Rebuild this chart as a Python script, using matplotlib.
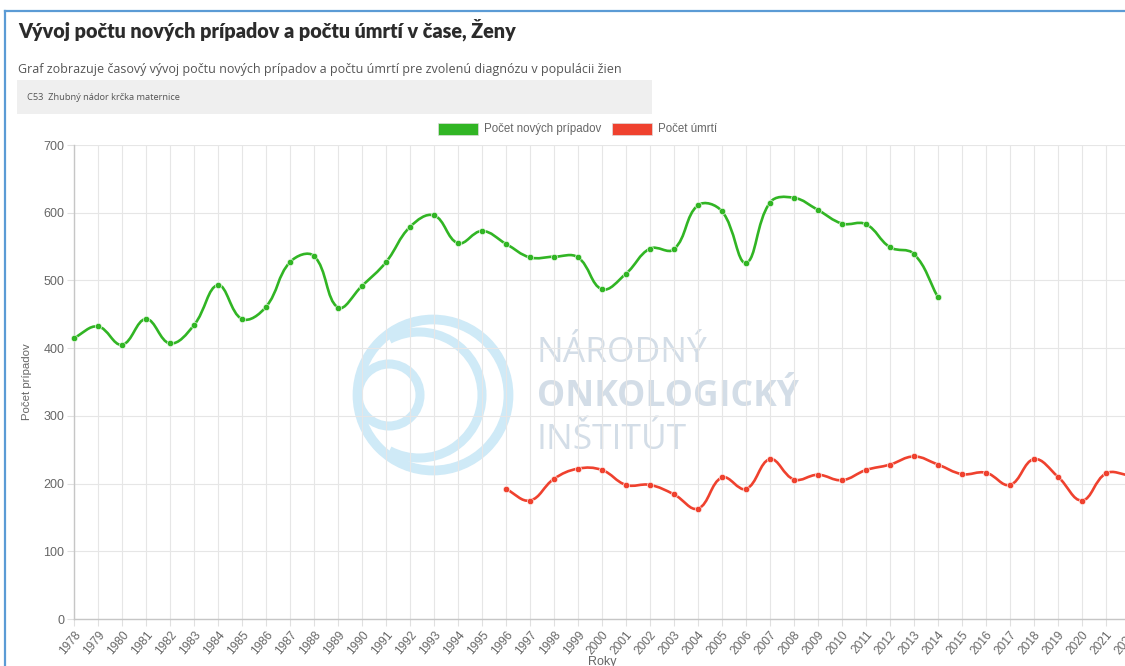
import numpy as np
import matplotlib.pyplot as plt
from matplotlib.path import Path
from matplotlib.patches import PathPatch, Rectangle, Circle, Arc

# data
years = list(range(1978, 2023))
cases_years = list(range(1978, 2015))
cases = [415, 432, 405, 443, 407, 434, 493, 443, 461, 527,
         536, 460, 492, 527, 579, 596, 555, 573, 554, 534,
         535, 534, 487, 510, 547, 546, 611, 602, 526, 615,
         622, 604, 584, 583, 549, 539, 475]
deaths_years = list(range(1996, 2023))
deaths = [192, 175, 207, 222, 220, 198, 198, 184, 163, 209,
          192, 236, 206, 213, 205, 220, 228, 240, 228, 214,
          216, 198, 236, 210, 175, 215, 212]

W, H = 1125, 666
fig = plt.figure(figsize=(W / 100, H / 100), dpi=100)
fig.patch.set_facecolor('white')

def fx(px): return px / W
def fy(py): return 1 - py / H

# frame of the card
fig.add_artist(plt.Line2D([fx(5), fx(5)], [fy(11), 0], color='#5b9bd5', lw=1.6))
fig.add_artist(plt.Line2D([fx(5), 1], [fy(11), fy(11)], color='#5b9bd5', lw=1.6))

fig.text(fx(18), fy(30), 'Vývoj počtu nových prípadov a počtu úmrtí v čase, Ženy',
         fontsize=14.2, fontweight='heavy', color='#2b2b2b', family='Lato', va='center')
fig.text(fx(18), fy(70), 'Graf zobrazuje časový vývoj počtu nových prípadov a počtu úmrtí pre zvolenú diagnózu v populácii žien',
         fontsize=9.0, color='#555555', family='Open Sans', va='center')
fig.add_artist(Rectangle((fx(17), fy(114)), fx(652) - fx(17), fy(80) - fy(114),
                         facecolor='#efefef', edgecolor='none'))
fig.text(fx(27), fy(97), 'C53  Zhubný nádor krčka maternice',
         fontsize=6.7, color='#555555', family='Open Sans', va='center')

# legend
green, red = '#31b524', '#ef412e'
for x0, c, lab in [(438, green, 'Počet nových prípadov'), (612, red, 'Počet úmrtí')]:
    fig.add_artist(Rectangle((fx(x0), fy(135)), fx(40), 12 / H,
                             facecolor=c, edgecolor='#dddddd', lw=0.5))
    fig.text(fx(x0 + 46), fy(129), lab, fontsize=8.3, color='#666666',
             family='Liberation Sans', va='center')

# watermark logo behind the chart
logo = '#cfeaf7'
wm = fig.add_axes([0, 0, 1, 1], zorder=0)
wm.set_xlim(0, W); wm.set_ylim(H, 0); wm.axis('off')
wm.add_patch(Circle((433, 395), 75.5, fill=False, ec=logo, lw=7))
wm.add_patch(Arc((419, 395), 126, 126, theta1=-118, theta2=118, ec=logo, lw=6.5))
wm.add_patch(Circle((389, 395), 31, fill=False, ec=logo, lw=6.5))
wm.set_aspect('equal')
wtc = '#d3dde7'
wm.text(537, 353, 'NÁRODNÝ', fontsize=25.5, color=wtc, family='Open Sans', va='center')
wm.text(537, 397, 'ONKOLOGICKÝ', fontsize=25.6, color=wtc, family='Open Sans',
        fontweight='bold', va='center')
wm.text(537, 440, 'INŠTITÚT', fontsize=25.5, color=wtc, family='Open Sans', va='center')

ax = fig.add_axes([fx(74), fy(619), (1130 - 74) / W, (619 - 145) / H], zorder=1)
ax.patch.set_alpha(0)
ax.set_xlim(1978, 2022)
ax.set_ylim(0, 700)

pxx = (1130 - 74) / 44.0
pxy = (619 - 145) / 700.0

def smooth(xs, ys, t=0.4):
    # chart.js style bezier spline through the points
    P = np.column_stack([np.array(xs, float) * pxx, np.array(ys, float) * pxy])
    n = len(P)
    verts, codes = [tuple(P[0])], [Path.MOVETO]
    cps = []
    for i in range(n):
        prv = P[i - 1] if i > 0 else P[i]
        nxt = P[i + 1] if i < n - 1 else P[i]
        d01 = np.hypot(*(P[i] - prv)); d12 = np.hypot(*(nxt - P[i]))
        s = d01 + d12
        s01 = d01 / s if s else 0; s12 = d12 / s if s else 0
        cps.append((P[i] - t * s01 * (nxt - prv), P[i] + t * s12 * (nxt - prv)))
    for i in range(n - 1):
        verts += [tuple(cps[i][1]), tuple(cps[i + 1][0]), tuple(P[i + 1])]
        codes += [Path.CURVE4] * 3
    v = np.array(verts)
    v[:, 0] /= pxx; v[:, 1] /= pxy
    return Path(v, codes)

for xs, ys, c in [(cases_years, cases, green), (deaths_years, deaths, red)]:
    ax.add_patch(PathPatch(smooth(xs, ys), fill=False, ec=c, lw=1.9, zorder=3))
    ax.plot(xs, ys, 'o', color=c, ms=4.6, mec='white', mew=0.4, zorder=4, clip_on=False)

ax.set_xticks(years)
ax.set_xticklabels([str(y) for y in years], rotation=50, ha='right',
                   rotation_mode='anchor', fontsize=8.6, color='#666666', family='Liberation Sans')
ax.set_yticks(range(0, 701, 100))
ax.set_yticklabels([str(v) for v in range(0, 701, 100)], fontsize=9,
                   color='#666666', family='Liberation Sans')
ax.grid(True, color='#e6e6e6', lw=0.8)
ax.set_axisbelow(True)
ax.tick_params(length=5, color='#e0e0e0', pad=2)
for s in ['top', 'right']:
    ax.spines[s].set_visible(False)
for s in ['left', 'bottom']:
    ax.spines[s].set_color('#c6c6c6')
    ax.spines[s].set_linewidth(1)
ax.set_ylabel('Počet prípadov', fontsize=8.2, color='#666666', family='Liberation Sans', labelpad=8)
fig.text(fx(602), fy(662), 'Roky', fontsize=9, color='#666666', family='Liberation Sans',
         ha='center', va='center')

fig.savefig('out.png', dpi=100, facecolor='white')
